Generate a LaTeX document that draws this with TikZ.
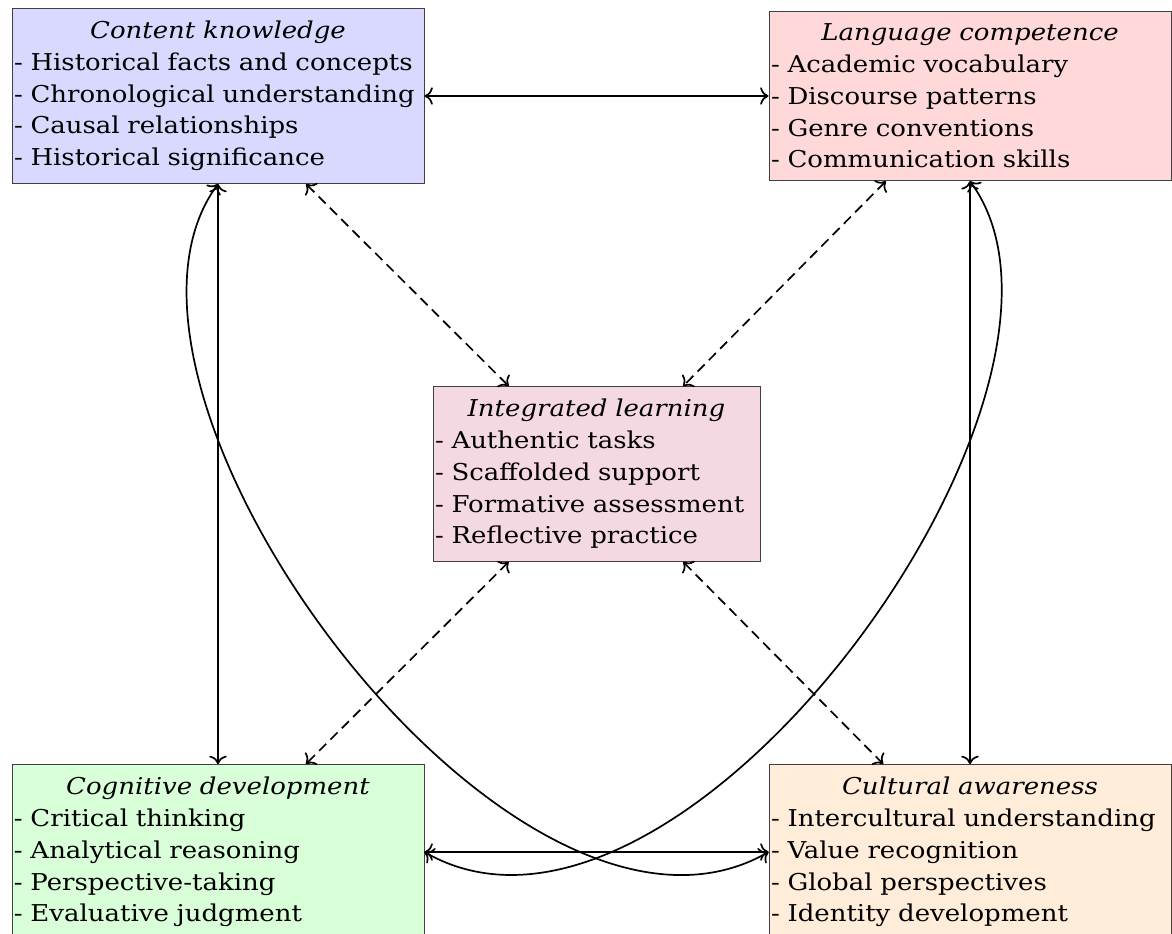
\documentclass[tikz,border=0pt]{standalone}
\usepackage{fontspec}
\setmainfont{DejaVu Serif}[FakeStretch=1.12]
\setlength{\parindent}{0pt}
\usetikzlibrary{arrows.meta}

% centred, italic heading line of a box
\newcommand{\boxtitle}[1]{\hfill\textit{#1}\hfill\null}
% one bullet line of a box (kept on one line)
\newcommand{\itemline}[1]{\mbox{- #1}}

\begin{document}
\begin{tikzpicture}[x=0.5pt, y=-0.5pt,
  >={Computer Modern Rightarrow[scale=1.2]},
  box/.style={draw=black!75, line width=0.5pt, rectangle, align=left,
    inner xsep=1pt, inner ysep=6.3pt,
    font=\fontsize{11.6pt}{15.875pt}\selectfont},
  link/.style={<->, line width=0.85pt},
  dlink/.style={link, dash pattern=on 5pt off 3pt}]

\useasboundingbox (0,0) rectangle (1172,933);

% the five areas
\node[box, fill=blue!15, text width=204pt] (ck) at (218,96)
  {\boxtitle{Content knowledge}\\
   \itemline{Historical facts and concepts}\\
   \itemline{Chronological understanding}\\
   \itemline{Causal relationships}\\
   \itemline{Historical significance}};

\node[box, fill=red!15, text width=199pt] (lc) at (970,96)
  {\boxtitle{Language competence}\\
   \itemline{Academic vocabulary}\\
   \itemline{Discourse patterns}\\
   \itemline{Genre conventions}\\
   \itemline{Communication skills}};

\node[box, fill=purple!15, text width=161.5pt] (il) at (596.5,474)
  {\boxtitle{Integrated learning}\\
   \itemline{Authentic tasks}\\
   \itemline{Scaffolded support}\\
   \itemline{Formative assessment}\\
   \itemline{Reflective practice}};

\node[box, fill=green!15, text width=204pt] (cd) at (218,852)
  {\boxtitle{Cognitive development}\\
   \itemline{Critical thinking}\\
   \itemline{Analytical reasoning}\\
   \itemline{Perspective-taking}\\
   \itemline{Evaluative judgment}};

\node[box, fill=orange!15, text width=199pt] (ca) at (970,852)
  {\boxtitle{Cultural awareness}\\
   \itemline{Intercultural understanding}\\
   \itemline{Value recognition}\\
   \itemline{Global perspectives}\\
   \itemline{Identity development}};

% direct links between the outer areas
\draw[link] (ck) -- (lc);
\draw[link] (cd) -- (ca);
\draw[link] (ck) -- (cd);
\draw[link] (lc) -- (ca);

% diagonal links through the integrated centre
\draw[link] (ck.south) .. controls +(-152,208) and +(-256,146) .. (ca.west);
\draw[link] (lc.south) .. controls +(152,208) and +(256,146) .. (cd.east);

% dashed links to the integrated centre
\draw[dlink] (ck) -- (il);
\draw[dlink] (lc) -- (il);
\draw[dlink] (il) -- (cd);
\draw[dlink] (il) -- (ca);
\end{tikzpicture}
\end{document}
